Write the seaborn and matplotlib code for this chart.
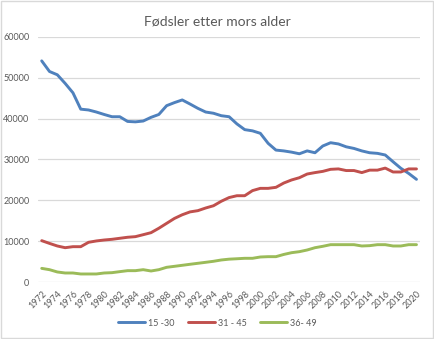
import numpy as np
import pandas as pd
import matplotlib
matplotlib.use("Agg")
import matplotlib.pyplot as plt
import seaborn as sns

# Births by mother's age group, 1972-2020
years = list(range(1972, 2021))

age_15_30 = [54100, 51500, 50700, 48600, 46300, 42300, 42100, 41600, 41000, 40450,
             40450, 39300, 39200, 39400, 40300, 41000, 43150, 43900, 44550, 43550,
             42500, 41600, 41300, 40700, 40450, 38700, 37300, 37000, 36400, 33950,
             32300, 32100, 31800, 31400, 32100, 31650, 33300, 34100, 33800, 33100,
             32700, 32100, 31650, 31500, 31100, 29450, 27850, 26600, 25150]

age_31_45 = [10170, 9500, 8870, 8450, 8700, 8700, 9770, 10100, 10330, 10500,
             10750, 11000, 11150, 11630, 12120, 13200, 14400, 15600, 16500, 17200,
             17500, 18150, 18700, 19800, 20700, 21150, 21150, 22400, 22950, 22950,
             23200, 24250, 25000, 25550, 26450, 26800, 27100, 27600, 27700, 27300,
             27300, 26800, 27400, 27400, 27900, 26950, 26950, 27700, 27700]

age_36_49 = [3400, 3080, 2520, 2270, 2270, 2030, 2030, 2030, 2270, 2350,
             2600, 2840, 2840, 3080, 2760, 3080, 3660, 3900, 4150, 4400,
             4640, 4880, 5130, 5450, 5650, 5750, 5860, 5860, 6180, 6260,
             6260, 6800, 7230, 7480, 7890, 8450, 8790, 9190, 9190, 9190,
             9190, 8870, 8950, 9190, 9190, 8870, 8870, 9190, 9190]

series_labels = ["15 -30", "31 - 45", "36- 49"]
series_colors = ["#4F81BD", "#C0504D", "#9BBB59"]
tick_years = list(range(1972, 2021, 2))
y_ticks = [0, 10000, 20000, 30000, 40000, 50000, 60000]
title = "Fødsler etter mors alder"

df = pd.DataFrame({
    "year": years * 3,
    "births": age_15_30 + age_31_45 + age_36_49,
    "group": [series_labels[0]] * len(years)
             + [series_labels[1]] * len(years)
             + [series_labels[2]] * len(years),
})

sns.set_theme(style="white")
plt.rcParams["font.family"] = ["Lato", "DejaVu Sans"]

text_grey = "#595959"
fig = plt.figure(figsize=(4.35, 3.39), dpi=100)
ax = fig.add_axes([0.0869, 0.1673, 0.8795, 0.7244])

sns.lineplot(data=df, x="year", y="births", hue="group",
             palette=dict(zip(series_labels, series_colors)),
             linewidth=2.1, ax=ax, legend=False)

ax.set_xlim(1971.5, 2020.5)
ax.set_ylim(0, 60000)
ax.set_yticks(y_ticks)
ax.set_yticklabels([str(v) for v in y_ticks])
ax.set_xticks(tick_years)
ax.set_xticklabels([str(y) for y in tick_years], rotation=45, ha="right",
                   rotation_mode="anchor")
ax.tick_params(axis="both", length=0, labelsize=6.5, labelcolor=text_grey)
ax.tick_params(axis="y", pad=6)
ax.tick_params(axis="x", pad=5)
ax.set_xlabel("")
ax.set_ylabel("")
ax.grid(axis="y", color="#D9D9D9", linewidth=0.9)
ax.set_axisbelow(True)
for s in ax.spines.values():
    s.set_visible(False)

fig.suptitle(title, x=0.5, y=0.955, fontsize=10, color=text_grey)

handles = [plt.Line2D([], [], color=c, linewidth=2.1) for c in series_colors]
fig.legend(handles, series_labels, loc="center", bbox_to_anchor=(0.5, 0.047),
           ncol=3, frameon=False, fontsize=6.5, labelcolor=text_grey,
           handlelength=3.0, handletextpad=0.3, columnspacing=1.5)

# light frame around the whole chart
fig.patches.append(matplotlib.patches.Rectangle(
    (0.002, 0.002), 0.994, 0.994, transform=fig.transFigure,
    fill=False, edgecolor="#D9D9D9", linewidth=1))

fig.savefig("out.png", dpi=100, facecolor="white")
